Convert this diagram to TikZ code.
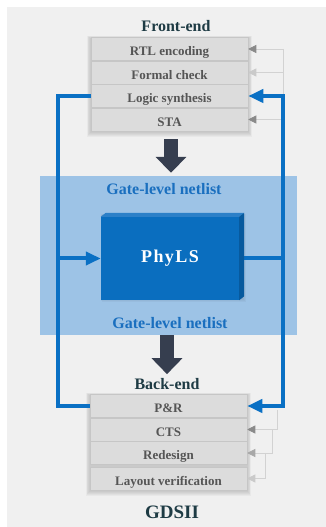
\documentclass[tikz,border=0pt]{standalone}
\usepackage{fontspec}
\setmainfont{Liberation Serif}
\usepackage{tikz}
\usetikzlibrary{calc, fit, positioning, arrows.meta, backgrounds}
\usepackage{xcolor}

\definecolor{pageGray}{HTML}{F0F0F0}
\definecolor{rowGray}{HTML}{DCDCDC}
\definecolor{rowEdge}{HTML}{C6C6C6}
\definecolor{rowText}{HTML}{555555}
\definecolor{titleTeal}{HTML}{1E3B44}
\definecolor{phyBlue}{HTML}{0A6EBF}
\definecolor{phyTop}{HTML}{2C80C8}
\definecolor{phySide}{HTML}{075A9E}
\definecolor{lineBlue}{HTML}{0A70C4}
\definecolor{bandBlue}{HTML}{9DC3E6}
\definecolor{netBlue}{HTML}{1A6FBF}
\definecolor{navyArrow}{HTML}{363E4F}
\definecolor{tipDark}{HTML}{8A8A8A}
\definecolor{tipMid}{HTML}{A8A8A8}
\definecolor{tipLight}{HTML}{CACACA}

\begin{document}
\begin{tikzpicture}[
    x=1pt, y=1pt,
    node distance = 0pt and 0pt,
    every node/.style = {font=\bfseries},
    stagebox/.style = {draw=rowEdge, line width=0.5pt, fill=rowGray, text=rowText,
                       font=\fontsize{13}{15}\selectfont\bfseries, text height=14pt, text depth=0pt,
                       minimum width=157pt, minimum height=23pt, inner sep=0pt},
    haze/.style = {fill=black, fill opacity=0.03},
    titlelbl/.style = {text=titleTeal, inner sep=0pt, font=\fontsize{16}{18}\selectfont\bfseries},
    netlbl/.style = {text=netBlue, inner sep=0pt, font=\fontsize{16}{18}\selectfont\bfseries},
    wire/.style = {draw=lineBlue, line width=4pt},
    ret/.style  = {wire, -{Triangle[length=15pt, width=13pt]}},
    fbwire/.style = {draw=gray!35, line width=0.6pt},
    fb/.style = {fbwire, -{Triangle[length=8pt, width=8pt, color=#1]}},
    flow/.style = {draw=navyArrow, line width=14pt, -{Triangle[length=16pt, width=30pt]}},
]
\useasboundingbox (0,0) rectangle (326,527);
\begin{scope}[on background layer]
  \fill[pageGray] (7,0) rectangle (326,520);
\end{scope}

% netlist band
\node[fill=bandBlue, minimum width=257pt, minimum height=159pt, inner sep=0pt] (band) at (168.5,271.5) {};
\node[netlbl] (netin) at (164,338) {Gate-level netlist};
\node[netlbl] (netout) at (170,204) {Gate-level netlist};

% Front-end stack
\node[titlelbl] (frontlbl) at (176,501) {Front-end};
\node[stagebox] (rtl) at (169.5,478) {RTL encoding};
\node[stagebox, below=of rtl] (formal) {Formal check};
\node[stagebox, below=of formal] (synth) {Logic synthesis};
\node[stagebox, below=of synth] (sta) {STA};

% Back-end stack
\node[titlelbl] (backlbl) at (167,143) {Back-end};
\node[stagebox] (pr) at (168.5,121) {P\&R};
\node[stagebox, below=of pr] (cts) {CTS};
\node[stagebox, below=of cts] (redesign) {Redesign};
\node[stagebox, below=2pt of redesign] (layout) {Layout verification};

\node[titlelbl, font=\fontsize{19}{21}\selectfont\bfseries] (gds) at (172,15) {GDSII};

% soft shadows
\begin{scope}[on background layer]
  \foreach \s in {1,...,5} {
    \fill[haze] ($(rtl.north west)+(-0.8*\s,0.5*\s-1)$) rectangle ($(sta.south east)+(0.8*\s,-\s-1)$);
    \fill[haze] ($(pr.north west)+(-0.8*\s,0.5*\s-1)$) rectangle ($(layout.south east)+(0.8*\s,-\s-1)$);
  }
\end{scope}
\foreach \s in {1,...,4}
  \fill[haze] ($(band.center)+(-68+\s*0.3,40.5+\s*0.2)$) rectangle ($(band.center)+(73+\s,-43-\s)$);

% PhyLS block
\node[fill=phyBlue, minimum width=138pt, minimum height=83pt, inner sep=0pt, text=white,
      font=\fontsize{18}{20}\selectfont\bfseries\addfontfeature{LetterSpace=8}] (phyls) at (170,268.5) {PhyLS};

% flow arrows
\draw[flow, shorten <=8pt, shorten >=3pt] ([xshift=1.5pt]sta.south) -- ([xshift=1.5pt]sta.south |- band.north);
\draw[flow, shorten >=4pt] (backlbl.north |- band.south) -- (backlbl.north);

% feedback rails
\coordinate (lrail) at ($(phyls.west)+(-43,0)$);
\coordinate (rrail) at ($(phyls.east)+(44,0)$);
\coordinate (stair1) at ($(pr.east)+(30,-4)$);
\coordinate (stair2) at ($(cts.east)+(25,0)$);
\coordinate (stair3) at ($(redesign.east)+(18,0)$);

\draw[fbwire] (rtl.east -| rrail) -- (sta.east -| rrail);
\draw[fb=tipDark] (rtl.east -| rrail) -- (rtl.east);
\draw[fb=tipLight] (formal.east -| rrail) -- (formal.east);
\draw[fb=tipDark] (sta.east -| rrail) -- (sta.east);
\draw[fb=tipDark] (stair1) |- (cts.east);
\draw[fb=tipMid] (stair2) |- (redesign.east);
\draw[fb=tipLight] (stair3) |- (layout.east);

% PhyLS loop
\draw[wire] (synth.west) -| (lrail) |- (pr.west);
\draw[ret] (lrail) -- (phyls.west);
\draw[wire] (phyls.east) -- (rrail);
\draw[ret] (rrail) |- (synth.east);
\draw[ret] (rrail) |- (pr.east);

% 3d faces
\fill[phyTop] (phyls.north west) -- ++(5,4) -- ($(phyls.north east)+(5,4)$) -- (phyls.north east) -- cycle;
\fill[phySide] (phyls.north east) -- ++(5,4) -- ($(phyls.south east)+(5,4)$) -- (phyls.south east) -- cycle;
\end{tikzpicture}
\end{document}
